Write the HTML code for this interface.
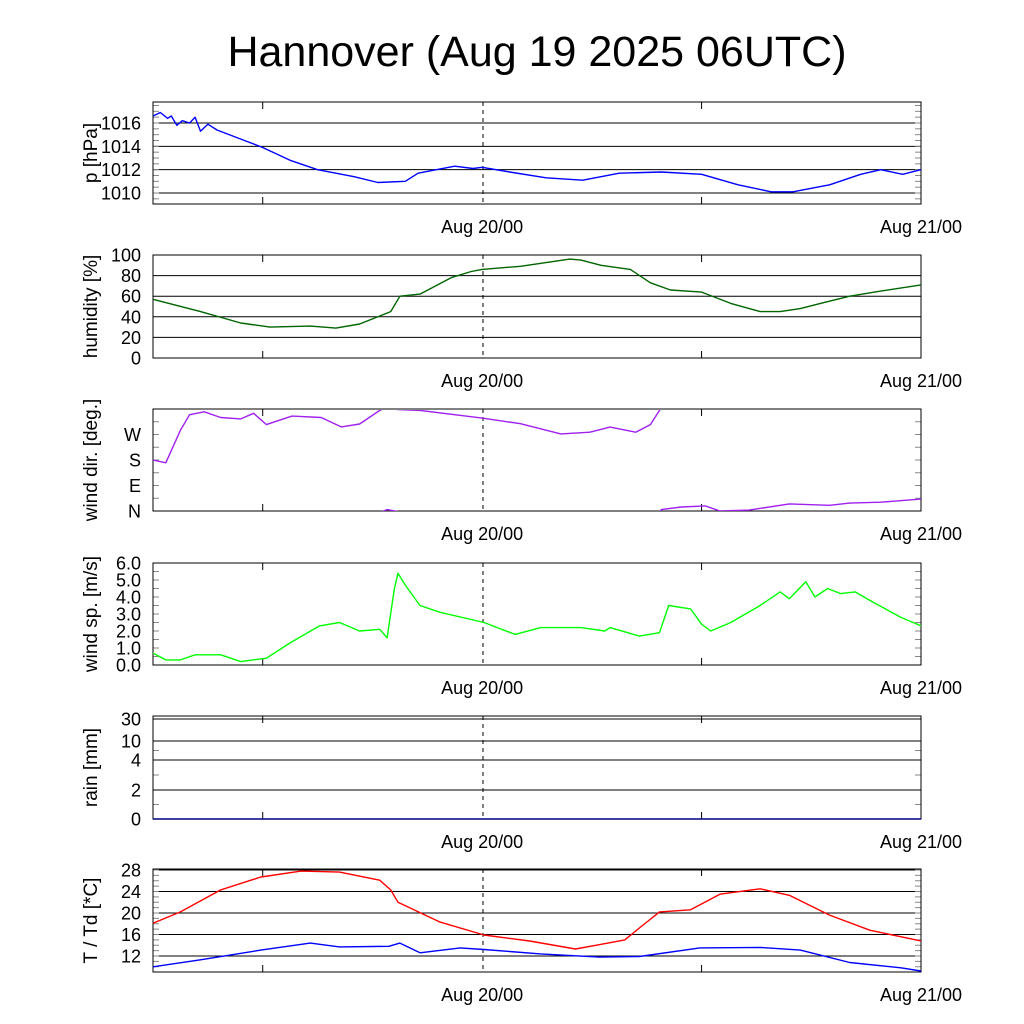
<!DOCTYPE html>
<html><head><meta charset="utf-8"><style>
html,body{margin:0;padding:0;background:#fff;}
svg{display:block;font-family:"Liberation Sans",sans-serif;}
</style></head><body>
<svg id="chart" width="1024" height="1024" viewBox="0 0 1024 1024" xmlns="http://www.w3.org/2000/svg">
<rect width="1024" height="1024" fill="#fff"/>
<text x="537" y="66" font-size="43" text-anchor="middle">Hannover (Aug 19 2025 06UTC)</text>
</svg>
<script>
// hours since Aug 19 06UTC
const timeLabels = ["Aug 20/00", "Aug 21/00"];
const timeLabelHours = [18, 42];
const pHours = [0,0.4,0.8,1,1.3,1.6,2,2.3,2.6,3,3.5,4.5,6,7.5,9,11,12.3,13.8,14.5,16.5,17.5,18,19.5,21.5,23.5,25.5,27.8,30,32,33.8,35,37,38.7,39.8,41,42];
const pValues = [1016.6,1016.9,1016.4,1016.6,1015.8,1016.2,1016.0,1016.5,1015.3,1015.9,1015.4,1014.8,1013.9,1012.8,1012.0,1011.4,1010.9,1011.0,1011.7,1012.3,1012.1,1012.2,1011.8,1011.3,1011.1,1011.7,1011.8,1011.6,1010.7,1010.1,1010.1,1010.7,1011.6,1012.0,1011.6,1012.0];
const rhHours = [0,2.6,4.8,6.4,8.6,10,11.3,13,13.5,14.6,16.3,17.4,18,20.1,22.8,23.4,24.5,26.1,27.2,28.3,30,31.6,33.2,34.3,35.4,36.5,38.1,39.8,42];
const rhValues = [57,45,34,30,31,29,33,45,60,62,78,84,86,89,96,95,90,86,73,66,64,53,45,45,48,53,60,65,71];
const ddHours = [0,0.7,1.5,2,2.8,3.7,4.8,5.5,6.2,7.6,9.2,10.3,11.3,12.4,12.8,13.4,14.6,18,20.1,22.3,23.9,25,26.4,27.2,27.8,28.9,30.2,31,32.6,34.8,37,38.1,39.8,42];
const ddValues = [180,170,285,340,350,330,325,345,305,335,330,297,307,355,365,358,355,328,308,272,278,296,278,305,365,374,378,360,363,385,380,388,391,402];
const ffHours = [0,0.7,1.5,2.3,3.7,4.8,6.2,7.5,9.1,10.2,11.3,12.4,12.8,13.2,13.4,13.8,14.6,15.7,18.1,19.8,21.2,23.4,24.7,25,26.6,27.7,28.2,29.4,30,30.5,31.6,33.2,34.3,34.8,35.7,36.2,36.9,37.6,38.4,39.2,40.9,42];
const ffValues = [0.7,0.3,0.3,0.6,0.6,0.2,0.4,1.3,2.3,2.5,2.0,2.1,1.6,4.5,5.4,4.7,3.5,3.1,2.5,1.8,2.2,2.2,2.0,2.2,1.7,1.9,3.5,3.3,2.4,2.0,2.5,3.5,4.3,3.9,4.9,4.0,4.5,4.2,4.3,3.8,2.8,2.3];
const rrHours = [0,42];
const rrValues = [0,0];
const tHours = [0,1.5,3.7,5.9,8.1,10.2,12.4,13,13.4,15.7,18.1,20.6,23.1,24.4,25.8,26.6,27.7,29.4,31,33.2,34.8,37,39.2,42];
const tValues = [18.1,20.2,24.3,26.7,27.8,27.6,26.1,24.3,22,18.3,15.9,14.8,13.3,14.1,15,17.2,20.2,20.6,23.5,24.5,23.3,19.6,16.8,14.8];
const tdHours = [0,2.6,5.9,8.6,10.2,12.9,13.5,14.6,16.8,18.1,21.2,24.4,26.6,29.9,33.2,35.4,38.1,40.9,42];
const tdValues = [10,11.3,13.1,14.4,13.7,13.8,14.4,12.6,13.5,13.2,12.4,11.8,11.9,13.5,13.6,13.1,10.8,9.8,9.2];

const NS="http://www.w3.org/2000/svg";
const svg=document.getElementById('chart');
const X0=153,X1=921,H=42;
function x(h){return X0+(X1-X0)*h/H;}
function mk(tag,attrs,parent){const e=document.createElementNS(NS,tag);for(const k in attrs)e.setAttribute(k,attrs[k]);(parent||svg).appendChild(e);return e;}

function panel(name,top,bot,yfun,grid,labels,minor,title){
  const g=mk('g',{});
  
  
  grid.forEach(v=>{const l=mk('line',{x1:X0,x2:X1,y1:yfun(v),y2:yfun(v),stroke:'#000','stroke-width':1},g);
    
    });
  minor.forEach(v=>{const y=yfun(v);mk('line',{x1:X0,x2:X0+6,y1:y,y2:y,stroke:'#888'},g);mk('line',{x1:X1-6,x2:X1,y1:y,y2:y,stroke:'#888'},g);});
  labels.forEach(([v,t])=>{const e=mk('text',{x:X0-12,y:yfun(v)+6.5,'font-size':18,'text-anchor':'end'},g);e.textContent=t;
    
    });
  const cy=(top+bot)/2;
  const tt=mk('text',{x:0,y:0,'font-size':19,'text-anchor':'middle',transform:`translate(97 ${cy}) rotate(-90)`},g);
  tt.textContent=title;
  
  
  mk('line',{x1:483,x2:483,y1:top,y2:bot,stroke:'#000','stroke-dasharray':'4,4'},g);
  [6,30].forEach(h=>{mk('line',{x1:x(h),x2:x(h),y1:bot,y2:bot-7,stroke:'#000'},g);mk('line',{x1:x(h),x2:x(h),y1:top,y2:top+7,stroke:'#000'},g);});
  mk('rect',{x:X0,y:top,width:X1-X0,height:bot-top,fill:'none',stroke:'#000','stroke-width':1},g);
  timeLabels.forEach((t,i)=>{const e=mk('text',{x:x(timeLabelHours[i]),y:bot+29,'font-size':18,'text-anchor':'middle'},g);e.textContent=t;
    
    });
  return g;
}
function line(g,name,hs,vs,yfun,color){
  const d=hs.map((h,i)=>(i?'L':'M')+x(h).toFixed(1)+' '+yfun(vs[i]).toFixed(1)).join(' ');
  const p=mk('path',{d:d,fill:'none',stroke:color,'stroke-width':1.4,'stroke-linejoin':'round'},g);
  
  
}
function range(a,b,s){const r=[];for(let v=a;v<=b+1e-9;v+=s)r.push(v);return r;}

{const top=102,bot=204,yf=v=>193-(v-1010)*70/6;
 const g=panel('pressure',top,bot,yf,[1010,1012,1014,1016],[[1010,'1010'],[1012,'1012'],[1014,'1014'],[1016,'1016']],range(1009.5,1017.5,0.5),'p [hPa]');
 const cp=mk('clipPath',{id:'c1'},g);mk('rect',{x:X0,y:top,width:X1-X0,height:bot-top},cp);
 const gg=mk('g',{'clip-path':'url(#c1)'},g);
 line(gg,'pressure-line',pHours,pValues,yf,'#0000ff');}
{const top=255,bot=358,yf=v=>358-v*1.03;
 const g=panel('humidity',top,bot,yf,[20,40,60,80],[0,20,40,60,80,100].map(v=>[v,String(v)]),[],'humidity [%]');
 line(g,'humidity-line',rhHours,rhValues,yf,'#006400');}
{const top=409,bot=511,yf=v=>511-v*102/360;
 const g=panel('wind-dir',top,bot,yf,[],[[0,'N'],[90,'E'],[180,'S'],[270,'W']],range(0,360,45),'wind dir. [deg.]');
 const cp=mk('clipPath',{id:'c3'},g);mk('rect',{x:X0,y:top+1,width:X1-X0,height:bot-top-1},cp);
 const gg=mk('g',{'clip-path':'url(#c3)'},g);
 line(gg,'wind-dir-line',ddHours,ddValues,yf,'#a020f0');
 line(gg,'wind-dir-line-wrapped',ddHours,ddValues.map(v=>v-360),yf,'#a020f0');}
{const top=563,bot=665,yf=v=>665-v*17;
 const g=panel('wind-speed',top,bot,yf,[],range(0,6,1).map(v=>[v,v.toFixed(1)]),range(0,6,0.5),'wind sp. [m/s]');
 line(g,'wind-speed-line',ffHours,ffValues,yf,'#00ff00');}
{const top=716,bot=819;const rt=[0,2,4,10,30],ry=[819,790,760,741,719];
 const yf=v=>{for(let i=1;i<rt.length;i++)if(v<=rt[i])return ry[i-1]+(ry[i]-ry[i-1])*(v-rt[i-1])/(rt[i]-rt[i-1]);return 719;};
 const g=panel('rain',top,bot,yf,[2,4,10,30],rt.map(v=>[v,String(v)]),[1,3,7],'rain [mm]');
 line(g,'rain-line',rrHours,rrValues,yf,'#000080');}
{const top=869,bot=972,yf=v=>956-(v-12)*21.5/4;
 const g=panel('temperature',top,bot,yf,[12,16,20,24,28],[12,16,20,24,28].map(v=>[v,String(v)]),range(10,28,1),'T / Td [*C]');
 const cp=mk('clipPath',{id:'c6'},g);mk('rect',{x:X0,y:top,width:X1-X0,height:bot-top},cp);
 const gg=mk('g',{'clip-path':'url(#c6)'},g);
 line(gg,'temperature-line',tHours,tValues,yf,'#ff0000');
 line(gg,'dewpoint-line',tdHours,tdValues,yf,'#0000ff');}
</script>
</body></html>
